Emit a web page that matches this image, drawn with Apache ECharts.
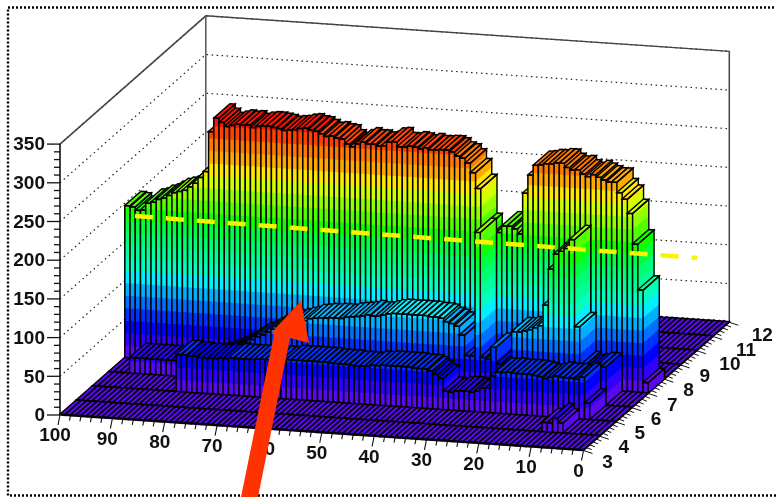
<!DOCTYPE html>
<html><head><meta charset="utf-8">
<style>html,body{margin:0;padding:0;background:#fff}#c{width:776px;height:497px}</style>
<script src="https://cdn.jsdelivr.net/npm/echarts@6/dist/echarts.min.js"></script>
</head><body><div id="c"></div>
<script>
// ---- data: bin contents, one array per y bin, x bins 0..99 ----
const row3 =[1,1,1,1,1,1,1,1,1,1,1,1,1,1,1,1,1,1,1,1,1,1,1,1,1,1,1,1,1,1,1,1,1,1,1,1,1,1,1,1,1,1,1,1,1,1,1,1,1,1,1,1,1,1,1,1,1,1,1,1,1,1,1,1,1,1,1,1,1,1,1,1,1,1,1,1,1,1,1,1,1,1,1,1,1,1,1,1,1,1,1,1,1,1,1,1,1,1,1,1];
const row4 =[1,1,1,1,1,1,1,14,20,13,13,1,1,1,1,1,1,1,1,1,1,1,1,1,1,1,1,1,1,1,1,1,1,1,1,1,1,1,1,1,1,1,1,1,1,1,1,1,1,1,1,1,1,1,1,1,1,1,1,1,1,1,1,1,1,1,1,1,1,1,1,1,1,1,1,1,1,1,1,1,1,1,1,1,1,1,1,1,1,1,1,1,1,1,1,1,1,1,1,1];
const row5 =[1,1,1,1,1,22,55,52,53,53, 53,54,52,50,52,53,54,54,54,54, 55,54,54,49,33,32,28,26,27,27, 26,24,25,41,46,50,52,52,52,53, 53,53,53,53,53,52,52,50,50,50, 50,51,51,51,51,52,52,52,52,52, 52,52,52,50,50,50,50,50,50,49, 49,49,49,49,48,48,47,47,47,47, 48,48,49,49,1,1,1,1,1,1, 1,1,1,1,1,1,1,1,1,1];
const row6 =[1,1,1,1,1,50,50,48,46,50, 100,212,200,196,192,172,125,98,95,92, 90,88,88,45,45,45,66,50,52,213, 53,53,79,90,93,95,99,100,100,101, 101,101,101,101,101,101,100,98,96,96, 97,95,94,93,92,90,90,90,89,89, 88,87,84,82,80,78,78,74,70,66, 62,59,55,50,46,42,38,35,32,30, 28,26,25,24,24,22,21,21,21,21, 21,21,21,21,21,21,1,1,1,1];
const row7 =[14,133,192,231,249,257,270,270,272,275, 278,275,278,283,282,285,290,290,288,288, 286,285,272,248,195,201,204,204,195,188, 185,200,250,270,282,288,290,295,297,297, 296,296,298,296,298,299,297,297,303,302, 297,296,298,298,300,297,293,296,302,303, 305,304,307,310,311,313,312,310,309,308, 310,311,312,312,311,309,312,311,312,310, 308,313,318,300,248,240,232,227,222,220, 218,214,210,208,204,202,193,192,196,197];
const row8 =row3, row9=row3, row10=row3, row11=row3;
const rowsBackToFront=[[11,row11],[10,row10],[9,row9],[8,row8],[7,row7],[6,row6],[5,row5],[4,row4],[3,row3]];
const xTicks=[0,10,20,30,40,50,60,70,80,90,100];
const yTicks=[3,4,5,6,7,8,9,10,11,12];
const zTicks=[0,50,100,150,200,250,300,350];
const palette=['#5a08f0','#3000ff','#0000ff','#0030ff','#0070ff','#00b0ff','#00f0ff','#00ffc0','#00ff98','#00ff70','#00ff40','#10ff00','#50ff00','#90ff00','#d0ff00','#ffe800','#ffa800','#ff7800','#ff4000','#ff1000','#f80000'];
const bandWidth=16.2;

// ---- oblique projection of (x, y, z) onto the hidden plane axes ----
const P={ox:583.5,oy:450.5,xx:-5.235,xy:-0.355,yx:16.2,yy:-14.25,zy:-0.774};
function proj(x,y,z){return [P.ox+x*P.xx+(y-3)*P.yx, P.oy+x*P.xy+(y-3)*P.yy+z*P.zy];}

const barData=[];
rowsBackToFront.forEach(([y,vals])=>{for(let i=99;i>=0;i--)barData.push([i,y,vals[i]]);});

function pts(api,list){return list.map(p=>api.coord(proj(p[0],p[1],p[2])));}
function poly(points,fill,stroke,lw){return {type:'polygon',shape:{points},style:{fill,stroke:stroke||fill,lineWidth:lw==null?0.6:lw}};}
function line(points,stroke,lw,dash){return {type:'polyline',shape:{points},style:{fill:'none',stroke,lineWidth:lw,lineDash:dash||null}};}

function renderBar(params,api){
  const i=api.value(0),y=api.value(1),h=api.value(2);
  const x0=i,x1=i+1,y0=y,y1=y+1,ch=[];
  const top=Math.min(palette.length-1,Math.floor(h/bandWidth));
  for(let b=0;b<=top;b++){
    const a=b*bandWidth,c=Math.min(h,(b+1)*bandWidth);
    if(c<=a)continue;
    ch.push(poly(pts(api,[[x1,y0,a],[x0,y0,a],[x0,y0,c],[x1,y0,c]]),palette[b]));
    ch.push(poly(pts(api,[[x0,y0,a],[x0,y1,a],[x0,y1,c],[x0,y0,c]]),palette[b]));
  }
  const col=palette[top];
  ch.push(poly(pts(api,[[x1,y0,h],[x0,y0,h],[x0,y1,h],[x1,y1,h]]),col,'#000',1.4));
  ch.push(line(pts(api,[[x1,y0,0],[x1,y0,h],[x0,y0,h],[x0,y0,0],[x1,y0,0]]),'#000',1.5));
  ch.push(line(pts(api,[[x0,y0,h],[x0,y1,h],[x0,y1,0],[x0,y0,0]]),'#000',1.4));
  return {type:'group',children:ch};
}

function renderFrame(params,api){
  const ch=[],zTop=zTicks[zTicks.length-1];
  zTicks.slice(1).forEach(z=>{
    ch.push(line(pts(api,[[100,3,z],[100,12,z],[0,12,z]]),'#222',1.2,[1.5,3.5]));
  });
  ch.push(line(pts(api,[[100,3,zTop],[100,12,zTop],[0,12,zTop],[0,12,0]]),'#444',1.5));
  ch.push(line(pts(api,[[100,12,zTop],[100,12,0]]),'#555',1.5));
  return {type:'group',children:ch};
}

const labelFont='bold 19px "Liberation Sans"';
function tickText(p,dx,dy,t){return {type:'text',x:p[0]+dx,y:p[1]+dy,style:{text:String(t),fill:'#111',font:labelFont,textAlign:'center',textVerticalAlign:'middle'}};}
function renderAxes(params,api){
  const ch=[],zTop=zTicks[zTicks.length-1];
  // z axis
  ch.push(line(pts(api,[[100,3,0],[100,3,zTop]]),'#111',1.6));
  for(let z=0;z<=zTop;z+=10){
    const p=api.coord(proj(100,3,z)),major=z%50===0;
    ch.push(line([[p[0],p[1]],[p[0]-(major?13:6),p[1]]],'#111',1.3));
  }
  zTicks.forEach(z=>{const p=api.coord(proj(100,3,z));
    ch.push({type:'text',x:p[0]-15,y:p[1]+1,style:{text:String(z),fill:'#111',font:labelFont,textAlign:'right',textVerticalAlign:'middle'}});});
  // x axis
  for(let x=0;x<=100;x+=2){
    const p=api.coord(proj(x,3,0)),major=x%10===0;
    ch.push(line([[p[0],p[1]],[p[0]-(major?2:1),p[1]+(major?10:5)]],'#111',1.1));
  }
  xTicks.forEach(x=>ch.push(tickText(api.coord(proj(x,3,0)),-5,21,x)));
  // y axis
  for(let k=0;k<=45;k++){
    const y=3+k/5,p=api.coord(proj(0,y,0)),major=k%5===0;
    ch.push(line([[p[0],p[1]],[p[0]+(major?9:5),p[1]+(major?3:2)]],'#111',1));
  }
  yTicks.forEach(y=>ch.push(tickText(api.coord(proj(0,y,0)),y>9?33:24,y>9?14:12,y)));
  return {type:'group',children:ch};
}

const chart=echarts.init(document.getElementById('c'),null,{renderer:'canvas'});
chart.setOption({
  animation:false,
  backgroundColor:'#fff',
  grid:{left:0,right:0,top:0,bottom:0},
  xAxis:{type:'value',min:0,max:776,show:false},
  yAxis:{type:'value',min:0,max:497,inverse:true,show:false},
  tooltip:{show:false},
  series:[
    {type:'custom',data:[[0]],renderItem:renderFrame,clip:false,silent:true,z:1},
    {type:'custom',data:barData,renderItem:renderBar,clip:false,silent:true,z:2,progressive:0,
      encode:{x:0,y:1}},
    {type:'custom',data:[[0]],renderItem:renderAxes,clip:false,silent:true,z:3},
    {type:'line',data:[[135,216],[697,258]],symbol:'none',silent:true,z:4,
      lineStyle:{color:'#fbf400',width:4.5,type:[18,13]}}
  ],
  graphic:[
    {type:'rect',shape:{x:8,y:7.5,width:800,height:488},silent:true,z:10,
      style:{fill:'none',stroke:'#000',lineWidth:2.4,lineDash:[2,2]}},
    {type:'polygon',shape:{points:[[301,301],[309,343],[290,338],[258,497],[241,497],[274,335],[272,332]]},silent:true,z:11,
      style:{fill:'#ff3300'}}
  ]
});
</script></body></html>
